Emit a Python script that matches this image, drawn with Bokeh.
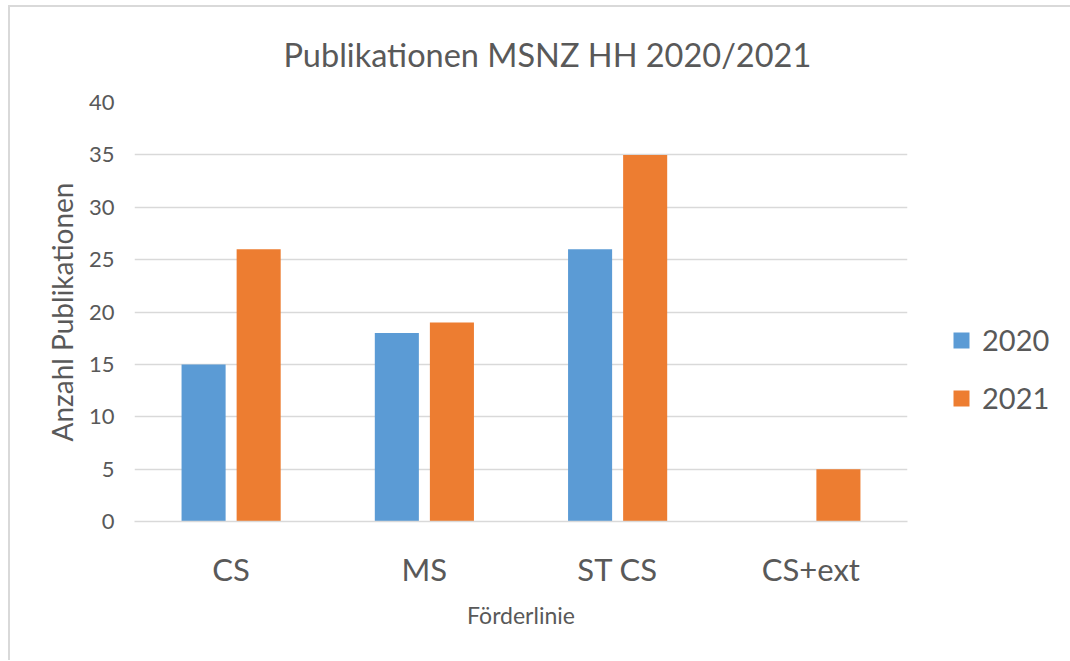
from bokeh.plotting import figure
from bokeh.models import ColumnDataSource, FactorRange, Legend, LegendItem
from bokeh.transform import dodge
from bokeh.embed import file_html
from bokeh.resources import INLINE

categories = ["CS", "MS", "ST CS", "CS+ext"]
series_names = ["2020", "2021"]
values_2020 = [15, 18, 26, 0]
values_2021 = [26, 19, 35, 5]
y_ticks = [0, 5, 10, 15, 20, 25, 30, 35, 40]

FONT = "Lato"
TXT = "#595959"
GRID = "#d9d9d9"

src = ColumnDataSource(dict(cat=categories, v2020=values_2020, v2021=values_2021))

p = figure(x_range=FactorRange(*categories, range_padding=0), y_range=(0, 40),
           frame_width=773, frame_height=419,
           min_border_left=124, min_border_right=155, min_border_top=95, min_border_bottom=139,
           output_backend="svg", toolbar_location=None,
           title="Publikationen MSNZ HH 2020/2021")
p.styles = {"border-top": "2px solid #d9d9d9", "border-left": "2px solid #d9d9d9",
            "margin-top": "5px", "margin-left": "8px"}
p.outline_line_color = None
p.background_fill_color = "white"
p.border_fill_color = "white"

p.title.text_font = FONT
p.title.text_font_size = "32.5px"
p.title.text_font_style = "normal"
p.title.text_color = TXT
p.title.align = "left"
p.title.offset = 149
p.title.standoff = 54
p.title.vertical_align = "top"

r1 = p.vbar(x=dodge("cat", -0.1425, range=p.x_range), top="v2020", width=0.228, source=src,
            fill_color="#5B9BD5", line_color=None)
r2 = p.vbar(x=dodge("cat", 0.1425, range=p.x_range), top="v2021", width=0.228, source=src,
            fill_color="#ED7D31", line_color=None)

p.xgrid.grid_line_color = None
p.ygrid.grid_line_color = GRID
p.ygrid.grid_line_width = 1.5

p.yaxis.ticker = y_ticks
p.yaxis.axis_line_color = None
p.yaxis.major_tick_line_color = None
p.yaxis.major_tick_out = 0
p.yaxis.major_tick_in = 0
p.yaxis.minor_tick_line_color = None
p.yaxis.major_label_text_font = FONT
p.yaxis.major_label_text_font_size = "22px"
p.yaxis.major_label_text_color = TXT
p.yaxis.major_label_standoff = 20
p.yaxis.axis_label = "Anzahl Publikationen"
p.yaxis.axis_label_text_font = FONT
p.yaxis.axis_label_text_font_size = "28px"
p.yaxis.axis_label_text_font_style = "normal"
p.yaxis.axis_label_text_color = TXT
p.yaxis.axis_label_standoff = 7

p.xaxis.axis_line_color = GRID
p.xaxis.axis_line_width = 1.5
p.xaxis.major_tick_line_color = None
p.xaxis.minor_tick_line_color = None
p.xaxis.major_label_text_font = FONT
p.xaxis.major_label_text_font_size = "31px"
p.xaxis.major_label_text_color = TXT
p.xaxis.major_label_standoff = 22
p.xaxis.axis_label = "Förderlinie"
p.xaxis.axis_label_text_font = FONT
p.xaxis.axis_label_text_font_size = "23px"
p.xaxis.axis_label_text_font_style = "normal"
p.xaxis.axis_label_text_color = TXT
p.xaxis.axis_label_standoff = 10

legend = Legend(items=[LegendItem(label=series_names[0], renderers=[r1]),
                       LegendItem(label=series_names[1], renderers=[r2])],
                location=(44, 106), orientation="vertical")
legend.glyph_width = 20
legend.glyph_height = 20
legend.label_standoff = 11
legend.label_text_font = FONT
legend.label_text_font_size = "29px"
legend.label_text_color = TXT
legend.spacing = 23
legend.padding = 0
legend.margin = 0
legend.border_line_color = None
legend.background_fill_alpha = 0
p.add_layout(legend, "right")

open("out.html", "w").write(file_html(p, INLINE))
